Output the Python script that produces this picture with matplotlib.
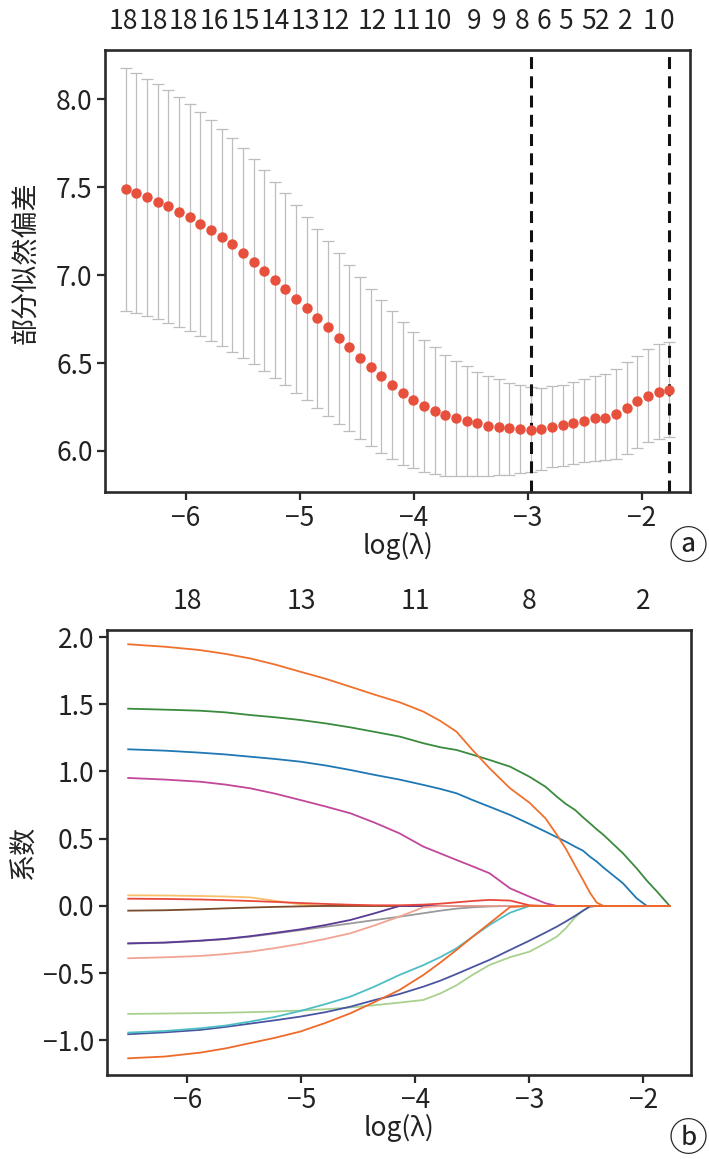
import matplotlib

matplotlib.use("Agg")
import matplotlib.pyplot as plt

plt.rcParams["font.family"] = ["Noto Sans CJK SC", "DejaVu Sans"]
plt.rcParams["axes.unicode_minus"] = True

# ---- panel a: cross-validated partial likelihood deviance ----
log_lambda = [
    -6.530, -6.437, -6.343, -6.250, -6.156, -6.063, -5.969, -5.876, -5.782, -5.689,
    -5.595, -5.502, -5.408, -5.315, -5.221, -5.128, -5.034, -4.941, -4.847, -4.754,
    -4.660, -4.567, -4.473, -4.380, -4.286, -4.193, -4.099, -4.006, -3.912, -3.819,
    -3.725, -3.632, -3.538, -3.445, -3.351, -3.258, -3.164, -3.071, -2.977, -2.884,
    -2.790, -2.697, -2.603, -2.510, -2.416, -2.323, -2.229, -2.136, -2.042, -1.949,
    -1.855, -1.762,
]
cv_mean = [
    7.488, 7.466, 7.445, 7.415, 7.390, 7.360, 7.330, 7.292, 7.256, 7.214,
    7.174, 7.127, 7.076, 7.025, 6.974, 6.918, 6.865, 6.812, 6.755, 6.703,
    6.640, 6.589, 6.529, 6.478, 6.425, 6.374, 6.329, 6.290, 6.256, 6.228,
    6.205, 6.185, 6.171, 6.158, 6.143, 6.135, 6.128, 6.122, 6.118, 6.124,
    6.135, 6.145, 6.158, 6.171, 6.185, 6.189, 6.209, 6.245, 6.283, 6.315,
    6.338, 6.349,
]
cv_upper = [
    8.177, 8.147, 8.117, 8.087, 8.053, 8.013, 7.973, 7.928, 7.881, 7.832,
    7.777, 7.721, 7.662, 7.598, 7.532, 7.466, 7.398, 7.331, 7.263, 7.195,
    7.127, 7.058, 6.990, 6.923, 6.859, 6.795, 6.735, 6.678, 6.631, 6.589,
    6.545, 6.511, 6.481, 6.451, 6.428, 6.407, 6.386, 6.373, 6.362, 6.358,
    6.367, 6.377, 6.392, 6.409, 6.424, 6.437, 6.464, 6.503, 6.541, 6.577,
    6.607, 6.622,
]
cv_lower = [
    6.798, 6.783, 6.766, 6.749, 6.726, 6.706, 6.681, 6.655, 6.626, 6.598,
    6.564, 6.530, 6.494, 6.455, 6.415, 6.375, 6.332, 6.288, 6.243, 6.201,
    6.156, 6.112, 6.069, 6.027, 5.988, 5.954, 5.922, 5.902, 5.883, 5.870,
    5.860, 5.860, 5.860, 5.860, 5.860, 5.866, 5.866, 5.873, 5.883, 5.894,
    5.907, 5.917, 5.928, 5.939, 5.941, 5.949, 5.956, 5.984, 6.018, 6.049,
    6.066, 6.079,
]
lambda_min = -2.977
lambda_1se = -1.762

nz_positions = [
    -6.55, -6.29, -6.02, -5.75, -5.48, -5.22, -4.95, -4.69, -4.37, -4.07, -3.80,
    -3.47, -3.25, -3.05, -2.86, -2.67, -2.47, -2.35, -2.15, -1.93, -1.78,
]
nz_labels = ["18", "18", "18", "16", "15", "14", "13", "12", "12", "11", "10",
             "9", "9", "8", "6", "5", "5", "2", "2", "1", "0"]

# ---- panel b: coefficient paths ----
path_lambda = [-6.52, -6.2, -5.89, -5.67, -5.45, -5.23, -5.01, -4.79, -4.57, -4.36, -4.14,
               -3.93, -3.78, -3.64, -3.5, -3.35, -3.17, -3.0, -2.86, -2.76, -2.68, -2.6,
               -2.53, -2.47, -2.41, -2.35, -2.18, -2.06, -1.97, -1.88, -1.77]
coef_paths = {
    "#F9C06A": [0.079, 0.078, 0.074, 0.070, 0.064, 0.038, 0.012, 0, 0, 0, 0,
                0, 0, 0, 0, 0, 0, 0, 0, 0, 0, 0, 0, 0, 0, 0, 0, 0, 0, 0, 0],
    "#7A4A2C": [-0.035, -0.032, -0.025, -0.018, -0.012, -0.007, -0.003, 0, 0, 0, 0,
                0, 0, 0, 0, 0, 0, 0, 0, 0, 0, 0, 0, 0, 0, 0, 0, 0, 0, 0, 0],
    "#9A9A9A": [-0.280, -0.274, -0.260, -0.247, -0.228, -0.205, -0.180, -0.155, -0.130, -0.105, -0.080,
                -0.054, -0.035, -0.020, -0.010, -0.004, 0, 0, 0, 0, 0, 0, 0, 0, 0, 0, 0, 0, 0, 0, 0],
    "#5B3A96": [-0.278, -0.272, -0.258, -0.245, -0.225, -0.200, -0.174, -0.142, -0.104, -0.055, 0,
                0, 0, 0, 0, 0, 0, 0, 0, 0, 0, 0, 0, 0, 0, 0, 0, 0, 0, 0, 0],
    "#F1A493": [-0.389, -0.382, -0.372, -0.358, -0.340, -0.313, -0.282, -0.245, -0.203, -0.145, -0.079,
                -0.010, 0, 0, 0, 0, 0, 0, 0, 0, 0, 0, 0, 0, 0, 0, 0, 0, 0, 0, 0],
    "#A9D18E": [-0.803, -0.800, -0.797, -0.794, -0.790, -0.785, -0.778, -0.768, -0.755, -0.738, -0.719,
                -0.699, -0.650, -0.590, -0.513, -0.439, -0.381, -0.340, -0.277, -0.228, -0.165, -0.085,
                -0.035, 0, 0, 0, 0, 0, 0, 0, 0],
    "#4A55A2": [-0.954, -0.940, -0.922, -0.900, -0.875, -0.850, -0.823, -0.790, -0.749, -0.700, -0.655,
                -0.600, -0.555, -0.506, -0.455, -0.401, -0.327, -0.258, -0.198, -0.154, -0.115, -0.074,
                -0.035, -0.005, 0, 0, 0, 0, 0, 0, 0],
    "#4DBFC4": [-0.942, -0.930, -0.910, -0.890, -0.860, -0.825, -0.781, -0.730, -0.674, -0.600, -0.513,
                -0.440, -0.380, -0.315, -0.230, -0.141, -0.050, 0, 0, 0, 0, 0, 0, 0, 0, 0, 0, 0, 0, 0, 0],
    "#C2479A": [0.952, 0.940, 0.924, 0.903, 0.875, 0.835, 0.788, 0.740, 0.689, 0.620, 0.540,
                0.441, 0.390, 0.342, 0.295, 0.243, 0.131, 0.069, 0.020, 0, 0, 0, 0, 0, 0, 0, 0, 0, 0, 0, 0],
    "#1F78B4": [1.165, 1.155, 1.140, 1.127, 1.110, 1.093, 1.073, 1.045, 1.011, 0.975, 0.940,
                0.900, 0.870, 0.838, 0.788, 0.738, 0.677, 0.610, 0.553, 0.511, 0.478, 0.441,
                0.411, 0.367, 0.330, 0.285, 0.169, 0.057, 0, 0, 0],
    "#3A8B3E": [1.467, 1.460, 1.452, 1.440, 1.420, 1.403, 1.383, 1.358, 1.328, 1.295, 1.260,
                1.210, 1.180, 1.160, 1.125, 1.086, 1.036, 0.961, 0.887, 0.813, 0.758, 0.714,
                0.659, 0.615, 0.570, 0.528, 0.392, 0.280, 0.188, 0.106, 0],
    "#E8483B": [0.054, 0.052, 0.048, 0.043, 0.037, 0.030, 0.022, 0.015, 0.009, 0.005, 0.005,
                0.010, 0.017, 0.027, 0.037, 0.045, 0.040, 0.005, 0, 0, 0, 0, 0, 0, 0, 0, 0, 0, 0, 0, 0],
    "#F0702E": [1.946, 1.928, 1.903, 1.875, 1.841, 1.795, 1.742, 1.690, 1.630, 1.572, 1.515,
                1.445, 1.375, 1.296, 1.160, 1.024, 0.875, 0.768, 0.652, 0.530, 0.424, 0.300,
                0.193, 0.099, 0.025, 0, 0, 0, 0, 0, 0],
    "#EE6A2B": [-1.133, -1.120, -1.091, -1.060, -1.020, -0.980, -0.934, -0.870, -0.798, -0.715, -0.625,
                -0.513, -0.420, -0.327, -0.230, -0.129, -0.008, 0, 0, 0, 0, 0, 0, 0, 0, 0, 0, 0, 0, 0, 0],
}
top_ticks_b = [-6, -5, -4, -3, -2]
top_labels_b = ["18", "13", "11", "8", "2"]

TEXT = "#222222"
SPINE = "#2a2a2a"
FS = 19


def style_axis(axis):
    for spine in axis.spines.values():
        spine.set_linewidth(1.9)
        spine.set_color(SPINE)
    axis.tick_params(direction="out", length=6, width=1.6, colors=SPINE,
                     labelcolor=TEXT, labelsize=FS, pad=3)
    axis.set_xticks([-6, -5, -4, -3, -2])


figure = plt.figure(figsize=(7.09, 11.59), dpi=100)

ax_a = figure.add_axes([0.1481, 0.5751, 0.8251, 0.3818])
lower_err = [m - lo for m, lo in zip(cv_mean, cv_lower)]
upper_err = [up - m for m, up in zip(cv_mean, cv_upper)]
ax_a.errorbar(log_lambda, cv_mean, yerr=[lower_err, upper_err], fmt="none",
              ecolor="#bdbdbd", elinewidth=0.9, capsize=4, capthick=0.9, zorder=1)
ax_a.plot(log_lambda, cv_mean, "o", color="#E8503E", markersize=7.5,
          markeredgewidth=0, zorder=3)
for line_x in (lambda_min, lambda_1se):
    ax_a.axvline(line_x, color="#111111", linewidth=2.2,
                 linestyle=(0, (3.9, 2.4)), zorder=2)
ax_a.set_xlim(-6.711, -1.579)
ax_a.set_ylim(5.764, 8.280)
ax_a.set_yticks([6.0, 6.5, 7.0, 7.5, 8.0])
style_axis(ax_a)
ax_a.set_xlabel("log(λ)", fontsize=FS, color=TEXT, labelpad=0)
ax_a.set_ylabel("部分似然偏差", fontsize=FS + 0.5, color=TEXT)
ax_a.yaxis.set_label_coords(-0.112, 0.52)
top_a = ax_a.secondary_xaxis("top")
top_a.set_xticks(nz_positions, nz_labels)
top_a.tick_params(length=0, labelsize=FS, labelcolor=TEXT, pad=11)
top_a.spines["top"].set_visible(False)

ax_b = figure.add_axes([0.1509, 0.0725, 0.8237, 0.3839])
for color, values in coef_paths.items():
    ax_b.plot(path_lambda, values, color=color, linewidth=1.3)
ax_b.set_xlim(-6.706, -1.583)
ax_b.set_ylim(-1.257, 2.052)
ax_b.set_yticks([-1.0, -0.5, 0.0, 0.5, 1.0, 1.5, 2.0])
style_axis(ax_b)
ax_b.set_xlabel("log(λ)", fontsize=FS, color=TEXT, labelpad=0)
ax_b.set_ylabel("系数", fontsize=FS + 0.5, color=TEXT, labelpad=4)
top_b = ax_b.secondary_xaxis("top")
top_b.set_xticks(top_ticks_b, top_labels_b)
top_b.tick_params(length=0, labelsize=FS, labelcolor=TEXT, pad=11)
top_b.spines["top"].set_visible(False)

figure.text(688 / 709, 1 - 548 / 1159, "ⓐ", fontsize=28, color=TEXT,
            ha="center", va="center")
figure.text(688 / 709, 1 - 1140 / 1159, "ⓑ", fontsize=28, color=TEXT,
            ha="center", va="center")

figure.savefig("out.png", dpi=100)
plt.close(figure)
